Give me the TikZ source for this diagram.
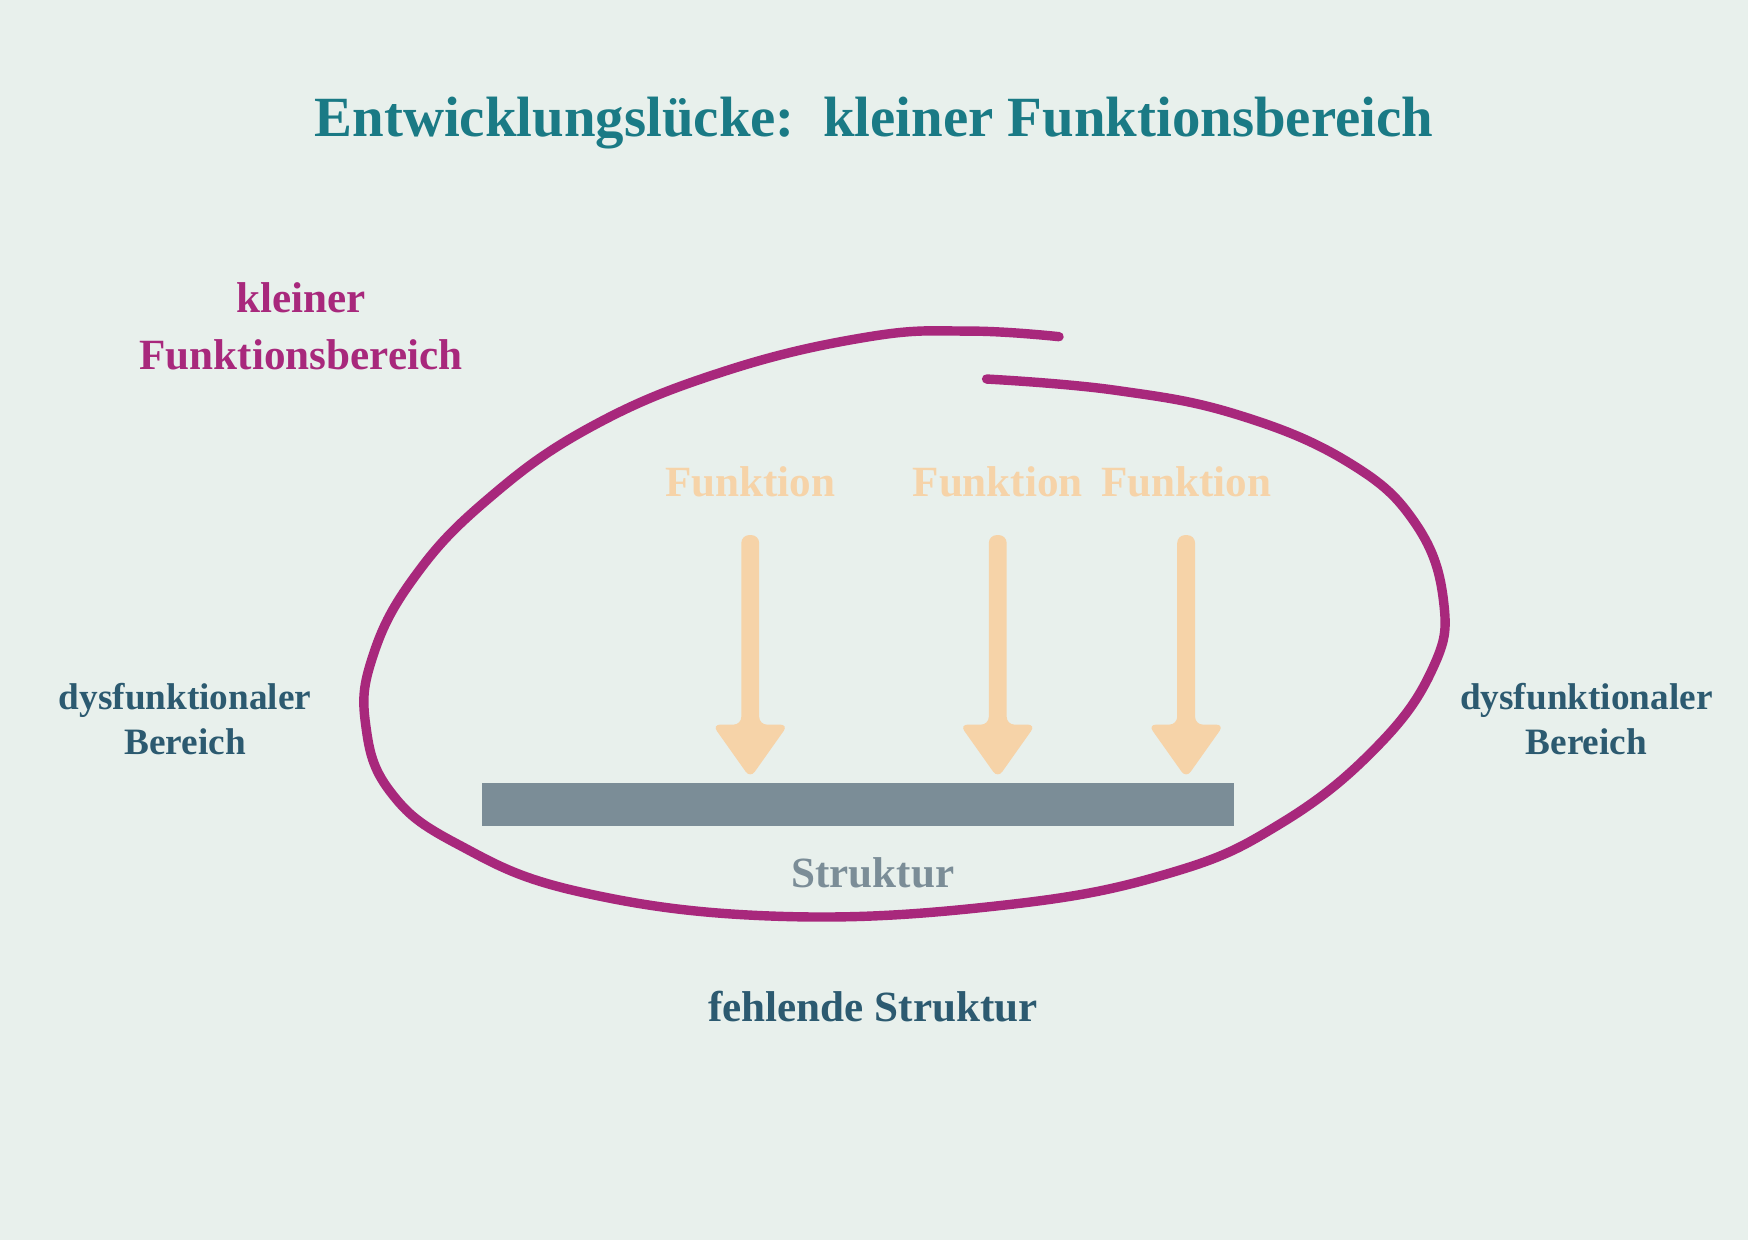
\documentclass[tikz,border=0pt]{standalone}
\usepackage{fontspec}
\setmainfont{Liberation Serif}
\definecolor{bg}{HTML}{E8F0EC}
\definecolor{teal}{HTML}{1A7A85}
\definecolor{mag}{HTML}{A8287C}
\definecolor{peach}{HTML}{F6D3A8}
\definecolor{gry}{HTML}{7B8D97}
\definecolor{navy}{HTML}{2C5A70}
\begin{document}
\begin{tikzpicture}[x=0.01cm,y=-0.01cm,
  lbl/.style={font=\bfseries\fontsize{9.5}{11.3}\selectfont,align=center,text=navy},
  fk/.style={font=\bfseries\fontsize{11}{12}\selectfont,text=peach},
  arr/.style={fill=peach,rounded corners=2pt}]
\fill[bg] (0,0) rectangle (1568,1112);
\useasboundingbox (0,0) rectangle (1568,1112);
\node[font=\bfseries\fontsize{14.5}{16}\selectfont,text=teal] (title) at (784,110) {Entwicklungslücke:\ \ kleiner Funktionsbereich};
\node[font=\bfseries\fontsize{11}{14.5}\selectfont,text=mag,align=center] (kf) at (270,293) {kleiner\\Funktionsbereich};
\node[lbl] (dl) at (166,645) {dysfunktionaler\\Bereich};
\node[lbl] (dr) at (1423,645) {dysfunktionaler\\Bereich};
\node[lbl,font=\bfseries\fontsize{11}{12}\selectfont] (fs) at (783,903) {fehlende Struktur};
\draw[mag,line width=2.4pt,line cap=round] plot[smooth,tension=0.7] coordinates {(950,302) (870,297) (780,302) (650,333) (530,383) (435,450) (370,520) (334,590) (328,650) (350,710) (410,757) (520,800) (700,822) (900,812) (1050,783) (1150,738) (1235,670) (1285,600) (1295,540) (1270,470) (1210,415) (1110,372) (1000,350) (885,340)};
\fill[gry] (432,702) rectangle (1107,741);
\node[fk,text=gry] (st) at (783,783) {Struktur};
\foreach \x/\n in {673/a,895/b,1064/c}{
  \node[fk] (f\n) at (\x,432) {Funktion};
  \fill[arr] (\x-8,480) -- (\x+8,480) -- (\x+8,650) -- (\x+34,650) -- (\x,698) -- (\x-34,650) -- (\x-8,650) -- cycle;
}
\end{tikzpicture}
\end{document}
